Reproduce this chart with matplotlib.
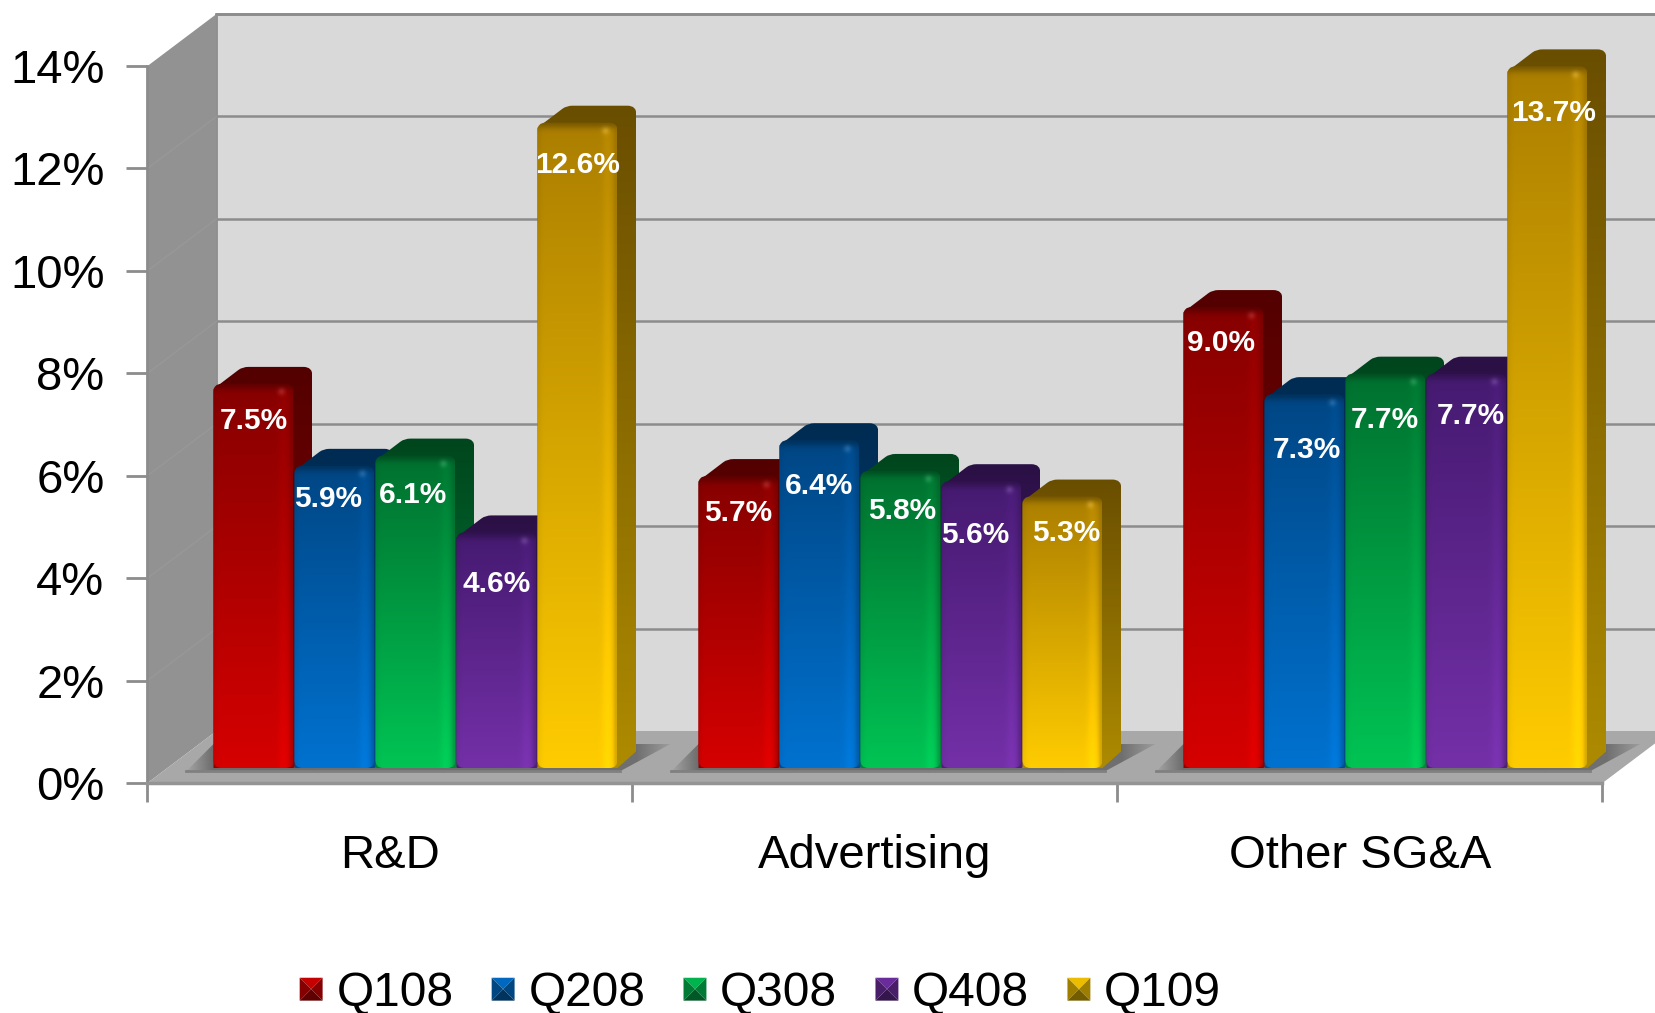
import numpy as np
import matplotlib
matplotlib.use("Agg")
import matplotlib.pyplot as plt
from matplotlib.legend_handler import HandlerBase
from matplotlib.patches import FancyBboxPatch, Patch, Polygon, PathPatch
from matplotlib.path import Path

groups = ['R&D', 'Advertising', 'Other SG&A']
quarters = ['Q108', 'Q208', 'Q308', 'Q408', 'Q109']
q108 = [7.5, 5.7, 9.0]
q208 = [5.9, 6.4, 7.3]
q308 = [6.1, 5.8, 7.7]
q408 = [4.6, 5.6, 7.7]
q109 = [12.6, 5.3, 13.7]
series = [q108, q208, q308, q408, q109]
yticks = [0, 2, 4, 6, 8, 10, 12, 14]

# colours per series : top of face, bottom of face
top_cols = ['#860000', '#004684', '#00702f', '#451a70', '#ab7e00']
bot_cols = ['#d60000', '#0072d0', '#00c454', '#7430a8', '#ffcc00']
# label placement relative to the bar (pixels)
label_drop = [[37, 37, 36], [33, 46, 56], [39, 40, 46], [52, 54, 42], [42, 36, 47]]
label_shift = [[0, 0, -2], [-6, 0, 2], [-2, 2, -1], [0, -6, 4], [0, 4, 6]]

plt.rcParams['font.family'] = ['Liberation Sans', 'DejaVu Sans']

W, H = 1656, 1013
fig = plt.figure(figsize=(W / 100, H / 100), dpi=100)
ax = fig.add_axes([147.5 / W, 1 - 783 / H, 1455 / W, 717 / H])
ax.set_xlim(0, 3)
ax.set_ylim(0, 14)

# pixels -> data units
px = 3 / 1455
py = 14 / 717
wall_dx = 69 * px
wall_dy = 52 * py
floor_col = '#a8a8a8'


def rgb(c):
    return np.array(matplotlib.colors.to_rgb(c))


def show(img, x0, x1, y0, y1, clip, z):
    im = ax.imshow(img, extent=[x0, x1, y0, y1], aspect='auto', origin='upper', zorder=z,
                   interpolation='bilinear')
    im.set_clip_box(fig.bbox)
    im.set_clip_path(clip)
    return im


def ramp(c_top, c_bot, rows, cols):
    t = np.linspace(0, 1, rows)[:, None, None]
    img = c_top[None, None, :] * (1 - t) + c_bot[None, None, :] * t
    return np.repeat(img, cols, axis=1)


def front_image(c_top, c_bot, dark, wpx, hpx):
    # vertical colour ramp, soft rim at the top, highlight down the right hand side
    rows, cols = int(hpx), int(wpx)
    img = ramp(c_top, c_bot, rows, cols)
    yy = np.arange(rows)[:, None]
    xx = np.arange(cols)[None, :]
    shade = 1 - 0.05 * np.exp(-(xx / 4.0) ** 2) + 0.07 * np.exp(-((xx - (cols - 10)) / 5.0) ** 2)
    img = img * shade[:, :, None]
    rim = np.exp(-(yy / 6.0) ** 2)[:, :, None]
    img = img * (1 - rim) + dark[None, None, :] * rim
    edge = np.exp(-((xx - cols + 1) / 3.0) ** 2)[:, :, None]
    img = img * (1 - 0.3 * edge) + dark[None, None, :] * 0.3 * edge
    spot = np.exp(-((xx - (cols - 12)) ** 2 + (yy - 8.0) ** 2) / 14.0)[:, :, None]
    img = img + 0.12 * spot
    return np.clip(img, 0, 1)


# back wall, floor, side wall
wall = Polygon([(wall_dx, wall_dy), (3.2, wall_dy), (3.2, 14 + wall_dy), (wall_dx, 14 + wall_dy)],
               fc='#d9d9d9', ec='none', clip_on=False, zorder=1)
ax.add_patch(wall)
ax.plot([wall_dx, wall_dx, 3.2], [wall_dy, 14 + wall_dy, 14 + wall_dy], color='#8c8c8c', lw=2,
        clip_on=False, zorder=1.2)
for t in yticks[1:]:
    ax.plot([wall_dx, 3.2], [t + wall_dy, t + wall_dy], color='#8c8c8c', lw=1.8, clip_on=False, zorder=1.1)

side_wall = Polygon([(0, 0), (wall_dx, wall_dy), (wall_dx, 14 + wall_dy), (0, 14)], fc='#929292',
                    ec='none', clip_on=False, zorder=1.5)
ax.add_patch(side_wall)
for t in yticks[1:-1]:
    ax.plot([0, wall_dx], [t, t + wall_dy], color='#989898', lw=1, clip_on=False, zorder=1.6)

floor = Polygon([(0, 0), (wall_dx, wall_dy), (3 + wall_dx, wall_dy), (3, 0)], fc=floor_col,
                ec='none', clip_on=False, zorder=2)
ax.add_patch(floor)

# bars geometry
gap = 66 * px
step = 81 * px
bw = 80 * px
base = 15 * py
dep_x = 19 * px
dep_y = 17 * py
round_x = 8 * px
round_y = 8 * py
sh_low = 12 * py
sh_high = 39 * py

# shadow on the floor under each group
for g in range(3):
    gx = g + gap
    ge = gx + 5 * step
    left = gx - 27 * px
    right = ge + 52 * px
    shadow = Polygon([(left, sh_low), (ge + 2 * px, sh_low), (right, sh_high), (gx, sh_high)],
                     clip_on=False, fc='none', ec='none', zorder=2.1)
    ax.add_patch(shadow)
    cols = int((right - left) / px)
    alpha = np.interp(np.arange(cols), [0, 27, cols - 34, cols - 1], [0.05, 1.0, 0.95, 0.2])
    img = np.ones((2, cols, 4))
    img[:, :, :3] = rgb('#6c6c6c')
    img[:, :, 3] = alpha
    show(img, left, right, sh_low, sh_high, shadow, 2.1)
    ax.plot([left, ge + 2 * px], [sh_low, sh_low], color='#808080', lw=2, clip_on=False, zorder=2.2)

z = 3
for g in range(3):
    for s in range(5):
        x0 = g + gap + s * step
        v = series[s][g]
        yt = base + v
        ctop = rgb(top_cols[s])
        cbot = rgb(bot_cols[s])
        xr = x0 + bw + dep_x
        yb = yt + dep_y
        # back silhouette (top and side faces)
        verts = [(x0, base), (x0, yt - 5 * py), (x0 + 25 * px, yb - 3 * py), (x0 + 29 * px, yb),
                 (x0 + 35 * px, yb), (xr - 9 * px, yb), (xr, yb), (xr, yb - 9 * py),
                 (xr, base + dep_y), (x0 + bw, base), (x0, base)]
        codes = [Path.MOVETO, Path.LINETO, Path.LINETO, Path.CURVE3, Path.CURVE3, Path.LINETO,
                 Path.CURVE3, Path.CURVE3, Path.LINETO, Path.LINETO, Path.CLOSEPOLY]
        back = PathPatch(Path(verts, codes), ec='none', fc='none', clip_on=False, zorder=z)
        ax.add_patch(back)
        show(ramp(ctop * 0.62, cbot * 0.68, 128, 4), x0, xr, base, yb, back, z)
        # front face
        front = FancyBboxPatch((x0 + round_x, base + round_y), bw - 2 * round_x, v - 2 * round_y,
                               boxstyle='round,pad=%f,rounding_size=%f' % (round_x, round_x),
                               mutation_aspect=py / px, ec='none', fc='none', clip_on=False, zorder=z + 0.1)
        ax.add_patch(front)
        show(front_image(ctop, cbot, ctop * 0.72, bw / px, v / py), x0, x0 + bw, base, yt, front, z + 0.1)
        ax.text(x0 + bw / 2 + label_shift[s][g] * px, yt - label_drop[s][g] * py, '%.1f%%' % v, color='white',
                fontsize=21.5, fontweight='bold', ha='center', va='center', zorder=z + 0.3, clip_on=False)
        z += 1

# axes furniture
for name in ['top', 'right']:
    ax.spines[name].set_visible(False)
ax.spines['left'].set_color('#8c8c8c')
ax.spines['left'].set_linewidth(2)
ax.spines['left'].set_zorder(2.4)
ax.spines['bottom'].set_color('#949494')
ax.spines['bottom'].set_linewidth(2.5)
ax.spines['bottom'].set_zorder(2.4)
ax.set_yticks(yticks)
ax.set_yticklabels(['%d%%' % t for t in yticks], fontsize=34)
ax.tick_params(axis='y', length=15, width=2, color='#8c8c8c', pad=16)
ax.set_xticks([0, 1, 2, 3])
ax.set_xticklabels([])
ax.tick_params(axis='x', which='major', length=14, width=2, color='#8c8c8c')
ax.set_xticks([0.5, 1.5, 2.5], minor=True)
ax.set_xticklabels(groups, minor=True, fontsize=34)
ax.tick_params(axis='x', which='minor', length=0, pad=37)


class PyramidHandler(HandlerBase):
    def create_artists(self, legend, orig, xd, yd, w, h, fontsize, trans):
        s = 16.5
        x0 = (w - s) / 2 - xd
        y0 = (h - s) / 2 - yd
        c = rgb(orig.get_facecolor()[:3])
        mid = (x0 + s / 2, y0 + s / 2)
        a, b, d, e = (x0, y0), (x0 + s, y0), (x0 + s, y0 + s), (x0, y0 + s)
        faces = [([e, d, mid], c * 0.92), ([a, e, mid], c * 0.62), ([b, d, mid], c * 0.62), ([a, b, mid], c * 0.45)]
        return [Polygon(v, fc=np.clip(col, 0, 1), ec='none', transform=trans) for v, col in faces]


handles = [Patch(fc=c) for c in bot_cols]
leg = fig.legend(handles, quarters, loc='lower center', bbox_to_anchor=(0.4583, -0.0455), ncol=5, frameon=False,
                 fontsize=34.5, handler_map={Patch: PyramidHandler()}, handlelength=0.6, handletextpad=0.226,
                 columnspacing=0.736)

fig.savefig('out.png', dpi=100)
